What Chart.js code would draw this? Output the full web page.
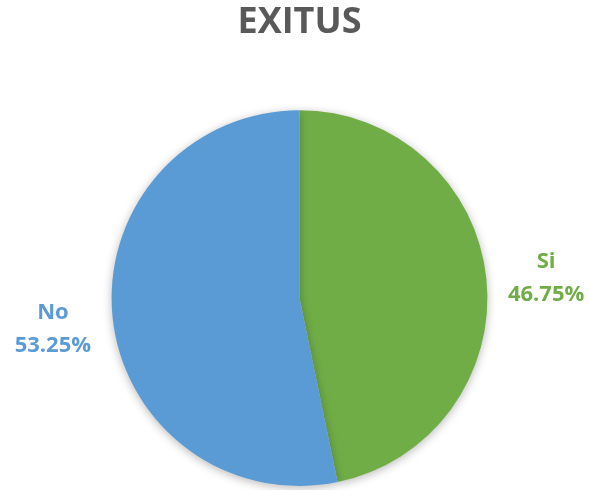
<!DOCTYPE html>
<html>
<head>
<meta charset="utf-8">
<script src="https://cdn.jsdelivr.net/npm/chart.js@4/dist/chart.umd.min.js"></script>
<style>
  html, body { margin: 0; padding: 0; background: #fff; }
  #wrap { width: 589px; height: 490px; }
</style>
</head>
<body>
<div id="wrap"><canvas id="myChart" width="589" height="490"></canvas></div>
<script>
var labels = ["Si", "No"];
var values = [46.75, 53.25];
var colors = ["#70AD47", "#5B9BD5"];

// soft shadow under the pie
var pieShadow = {
    id: "pieShadow",
    beforeDatasetsDraw: function(chart) {
        var ctx = chart.ctx;
        ctx.save();
        ctx.shadowColor = "rgba(0,0,0,0.28)";
        ctx.shadowBlur = 10;
        ctx.shadowOffsetX = 0;
        ctx.shadowOffsetY = 2;
    },
    afterDatasetsDraw: function(chart) {
        chart.ctx.restore();
    }
};

// category + percent written outside each slice
var outsideLabels = {
    id: "outsideLabels",
    afterDraw: function(chart) {
        var ctx = chart.ctx;
        var meta = chart.getDatasetMeta(0);
        var total = values.reduce(function(a, b) { return a + b; }, 0);
        ctx.save();
        ctx.font = "bold 22px 'Open Sans'";
        ctx.textAlign = "center";
        ctx.textBaseline = "middle";
        for (var i = 0; i < meta.data.length; i++) {
            var arc = meta.data[i];
            var mid = (arc.startAngle + arc.endAngle) / 2;
            var r = arc.outerRadius + 60;
            var x = arc.x + Math.cos(mid) * r;
            var y = arc.y + Math.sin(mid) * r;
            ctx.fillStyle = colors[i];
            ctx.fillText(labels[i], x, y - 11);
            ctx.fillText((values[i] / total * 100).toFixed(2) + "%", x, y + 22);
        }
        ctx.restore();
    }
};

var canvas = document.getElementById("myChart");
var ctx = canvas.getContext("2d");

var myChart = new Chart(ctx, {
    type: "pie",
    data: {
        labels: labels,
        datasets: [{
            data: values,
            backgroundColor: colors,
            borderWidth: 0
        }]
    },
    options: {
        responsive: false,
        animation: false,
        layout: { padding: { left: 10, right: 0, top: 0, bottom: 4 } },
        plugins: {
            legend: { display: false },
            tooltip: { enabled: false },
            title: {
                display: true,
                text: "EXITUS",
                color: "#595959",
                font: { family: "'Open Sans'", size: 36, weight: "bold", lineHeight: 1.2 },
                padding: { top: 1, bottom: 66 }
            }
        }
    },
    plugins: [pieShadow, outsideLabels]
});
</script>
</body>
</html>
